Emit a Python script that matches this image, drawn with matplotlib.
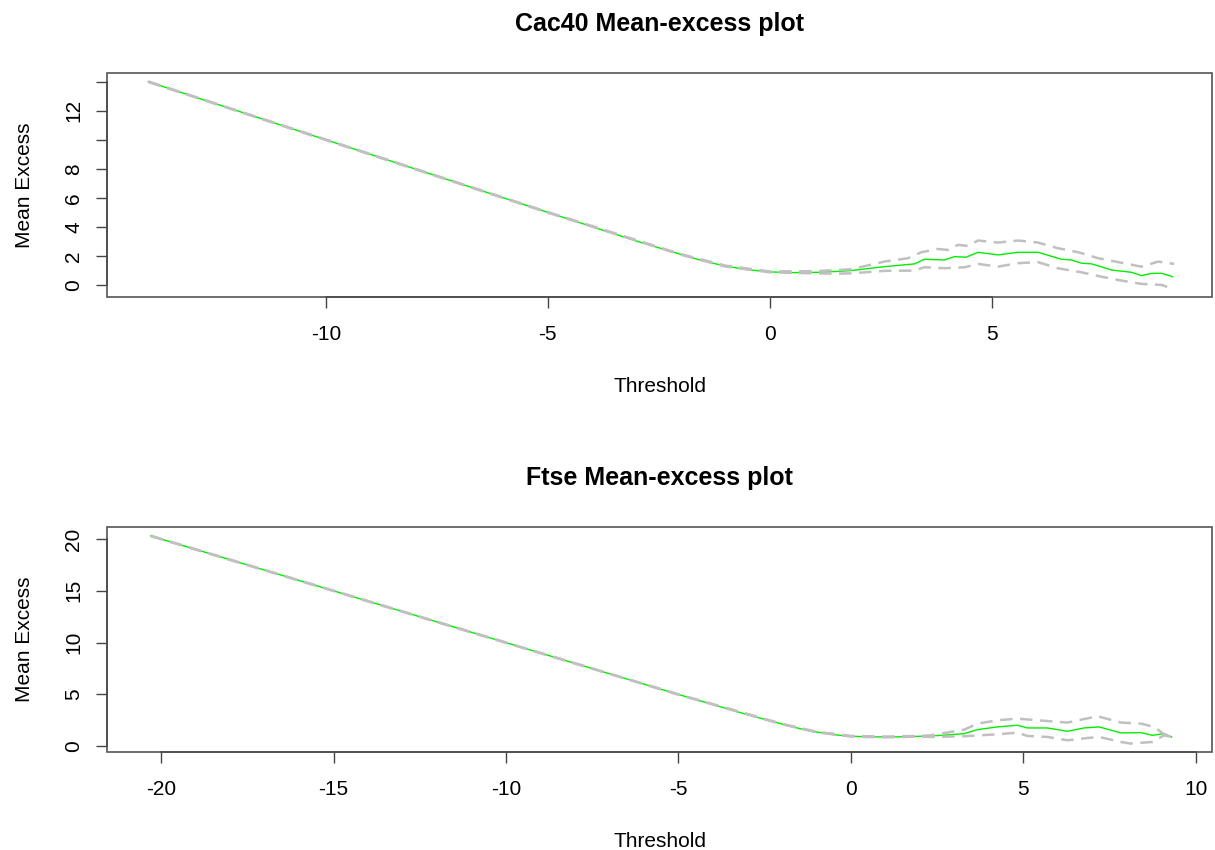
import matplotlib
matplotlib.use("Agg")
import matplotlib.pyplot as plt
from matplotlib.patches import Rectangle

plt.rcParams["font.family"] = ["Liberation Sans", "DejaVu Sans"]
plt.rcParams["axes.unicode_minus"] = False

# Cac40 mean-excess (threshold, mean excess, confidence band)
cac_u = [-14.0, -10.0, -5.0, -3.0, -2.0, -1.5, -1.0, -0.5, 0.0, 0.5, 1.08, 1.5, 1.83,
         2.58, 3.26, 3.48, 3.93, 4.16, 4.42, 4.69, 5.14, 5.59, 6.04, 6.57, 6.79, 7.02,
         7.25, 7.70, 8.15, 8.37, 8.60, 8.83, 9.07]
cac_me = [14.0, 10.0, 5.0, 3.02, 2.1, 1.65, 1.3, 1.05, 0.9, 0.85, 0.87, 0.93, 0.99,
          1.26, 1.45, 1.77, 1.72, 1.95, 1.91, 2.25, 2.07, 2.25, 2.25, 1.77, 1.72, 1.50,
          1.45, 1.03, 0.87, 0.64, 0.80, 0.80, 0.57]
cac_up_u = [-14.0, -5.0, -2.0, -1.0, 0.0, 1.0, 1.5, 1.83, 2.58, 3.11, 3.41, 3.78, 4.01,
            4.24, 4.46, 4.69, 5.14, 5.59, 6.04, 6.49, 6.95, 7.40, 7.85, 8.37, 8.75, 9.11]
cac_upper = [14.02, 5.02, 2.12, 1.33, 0.93, 0.95, 1.02, 1.08, 1.61, 1.84, 2.25, 2.48, 2.41,
             2.76, 2.69, 3.06, 2.92, 3.06, 2.92, 2.53, 2.25, 1.84, 1.57, 1.26, 1.61, 1.45]
cac_lo_u = [-14.0, -5.0, -2.0, -1.0, 0.0, 1.0, 1.5, 1.83, 2.58, 3.26, 3.48, 3.93, 4.39,
            4.69, 5.14, 5.59, 6.04, 6.49, 7.02, 7.47, 7.85, 8.37, 8.83, 9.09]
cac_lower = [13.98, 4.98, 2.08, 1.27, 0.87, 0.80, 0.78, 0.80, 0.97, 0.99, 1.22, 1.15, 1.22,
             1.45, 1.26, 1.50, 1.57, 1.15, 0.87, 0.57, 0.34, 0.07, 0.0, -0.30]

# Ftse mean-excess
ftse_u = [-20.3, -15.0, -10.0, -5.0, -3.0, -2.0, -1.5, -1.0, -0.5, 0.0, 0.5, 1.06, 1.5,
          2.03, 2.6, 3.29, 3.67, 4.25, 4.83, 5.12, 5.70, 6.28, 6.76, 7.20, 7.83, 8.41,
          8.74, 9.08, 9.30]
ftse_me = [20.3, 15.0, 10.0, 5.0, 3.05, 2.15, 1.72, 1.38, 1.12, 0.97, 0.92, 0.90, 0.92,
           0.97, 1.05, 1.22, 1.61, 1.87, 2.03, 1.77, 1.77, 1.45, 1.77, 1.87, 1.29, 1.32,
           1.06, 1.22, 0.90]
ftse_up_u = [-20.3, -5.0, -2.0, -1.0, 0.0, 1.0, 2.0, 2.32, 3.29, 3.67, 4.25, 4.83, 5.41,
             6.28, 7.15, 7.83, 8.41, 8.79, 9.06, 9.30]
ftse_upper = [20.32, 5.02, 2.17, 1.41, 1.0, 0.94, 1.0, 1.06, 1.61, 2.19, 2.51, 2.67, 2.51,
              2.29, 2.90, 2.29, 2.19, 1.87, 1.22, 0.90]
ftse_lo_u = [-20.3, -5.0, -2.0, -1.0, 0.0, 1.0, 2.0, 2.32, 3.29, 4.25, 4.83, 5.12, 5.70,
             6.28, 6.86, 7.20, 7.83, 8.12, 8.74, 9.08, 9.30]
ftse_lower = [20.28, 4.98, 2.13, 1.35, 0.94, 0.86, 0.94, 0.90, 0.97, 1.16, 1.32, 1.00, 0.90,
              0.58, 0.80, 0.90, 0.42, 0.26, 0.42, 1.06, 0.90]

cac_xticks = [-10, -5, 0, 5]
cac_yticks = [0, 2, 4, 6, 8, 10, 12, 14]
cac_ylabels = ["0", "2", "4", "6", "8", "", "12", ""]
ftse_xticks = [-20, -15, -10, -5, 0, 5, 10]
ftse_yticks = [0, 5, 10, 15, 20]

fig = plt.figure(figsize=(12.15, 8.5), dpi=100)
W, H = 1215, 850


def panel(box, title, u, me, up_u, upper, lo_u, lower, xlim, ylim, xticks, yticks, ylabels):
    l, t, r, b = box
    ax = fig.add_axes([l / W, 1 - b / H, (r - l) / W, (b - t) / H])
    ax.plot(u, me, color="#00ee00", lw=1.0, zorder=2)
    ax.plot(up_u, upper, color="#c0c0c0", lw=1.8, ls=(0, (5, 3)), zorder=3)
    ax.plot(lo_u, lower, color="#c0c0c0", lw=1.8, ls=(0, (5, 3)), zorder=3)
    ax.set_xlim(*xlim)
    ax.set_ylim(*ylim)
    ax.set_xticks(xticks)
    ax.set_yticks(yticks)
    ax.set_yticklabels(ylabels, rotation=90, va="center")
    for s in ["top", "right"]:
        ax.spines[s].set_visible(False)
    ax.spines["bottom"].set_bounds(xticks[0], xticks[-1])
    ax.spines["left"].set_bounds(yticks[0], yticks[-1])
    for s in ["bottom", "left"]:
        ax.spines[s].set_color("#222222")
        ax.spines[s].set_linewidth(1.2)
    ax.add_patch(Rectangle((0, 0), 1, 1, transform=ax.transAxes, fill=False,
                           edgecolor="#555555", lw=1.2, zorder=5, clip_on=False))
    ax.tick_params(length=8, width=1, color="#444444", labelsize=15, pad=12)
    ax.tick_params(axis="y", pad=9)
    ax.set_xlabel("Threshold", fontsize=15, labelpad=24)
    ax.set_ylabel("Mean Excess", fontsize=15, labelpad=22)
    ax.set_title(title, fontsize=18, fontweight="bold", pad=30)
    return ax


panel((107, 73, 1212, 297), "Cac40 Mean-excess plot", cac_u, cac_me, cac_up_u, cac_upper,
      cac_lo_u, cac_lower, (-14.93, 9.96), (-0.83, 14.6), cac_xticks, cac_yticks, cac_ylabels)
panel((107, 527, 1212, 752), "Ftse Mean-excess plot", ftse_u, ftse_me, ftse_up_u, ftse_upper,
      ftse_lo_u, ftse_lower, (-21.57, 10.47), (-0.55, 21.16), ftse_xticks, ftse_yticks,
      [str(v) for v in ftse_yticks])

fig.savefig("out.png", dpi=100)
